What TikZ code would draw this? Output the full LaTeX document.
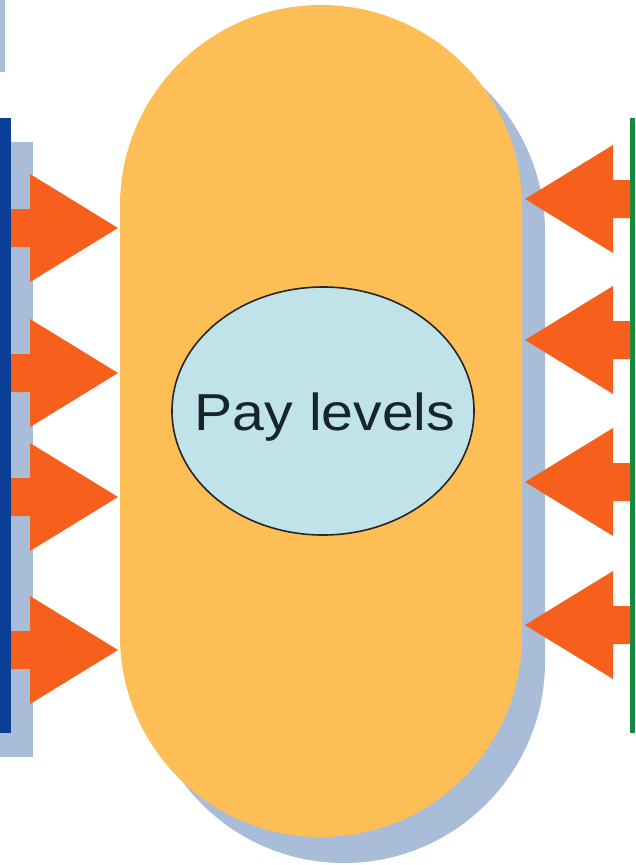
\documentclass[tikz,border=0pt]{standalone}
\usepackage{fontspec}
\setmainfont{Liberation Sans}
\usetikzlibrary{shapes.geometric}
\definecolor{capsulec}{HTML}{FCBE55}
\definecolor{shadowc}{HTML}{A9BCD8}
\definecolor{arrowc}{HTML}{F6601C}
\definecolor{darkblue}{HTML}{0B3F95}
\definecolor{greenbar}{HTML}{148A3C}
\definecolor{ellfill}{HTML}{BFE3E8}
\definecolor{txt}{HTML}{17252B}
\tikzset{
  shadowfill/.style={fill=shadowc, draw=none},
  arrowfill/.style={fill=arrowc, draw=none},
}
\begin{document}
\begin{tikzpicture}[x=1pt,y=-1pt]
\useasboundingbox (0,0) rectangle (635,865);
\fill[white] (0,0) rectangle (635,865);
% top-left small bar
\fill[shadowfill] (0,0) rectangle (5,72);
% left bar shadow and bar
\fill[shadowfill] (0,142) rectangle (33,757);
\fill[darkblue] (0,118) rectangle (11,733);
% green bar right
\fill[greenbar] (630,118) rectangle (635,733);
% capsule shadow
\fill[shadowfill] (143,232) arc[start angle=180,end angle=360,radius=201] -- (545,662) arc[start angle=0,end angle=180,radius=201] -- cycle;
% capsule
\fill[capsulec] (120,206) arc[start angle=180,end angle=360,radius=201] -- (522,636) arc[start angle=0,end angle=180,radius=201] -- cycle;
% left arrows
\foreach \c in {228,373,497,650}{
  \fill[arrowfill] (11,\c-19) -- (30,\c-19) -- (30,\c-54) -- (118,\c) -- (30,\c+54) -- (30,\c+19) -- (11,\c+19) -- cycle;
}
% right arrows
\foreach \c in {199,340,482,625}{
  \fill[arrowfill] (630,\c-19) -- (613,\c-19) -- (613,\c-54) -- (525,\c) -- (613,\c+54) -- (613,\c+19) -- (630,\c+19) -- cycle;
}
% ellipse
\node (pay) [ellipse, draw=black!85, line width=1.6pt, fill=ellfill, minimum width=302pt, minimum height=248pt, inner sep=0pt] at (323,411) {};
\node (paytext) [text=txt, xscale=1.1, inner sep=0pt, anchor=base] at (325,430) {\fontsize{52}{52}\selectfont Pay levels};
\end{tikzpicture}
\end{document}
